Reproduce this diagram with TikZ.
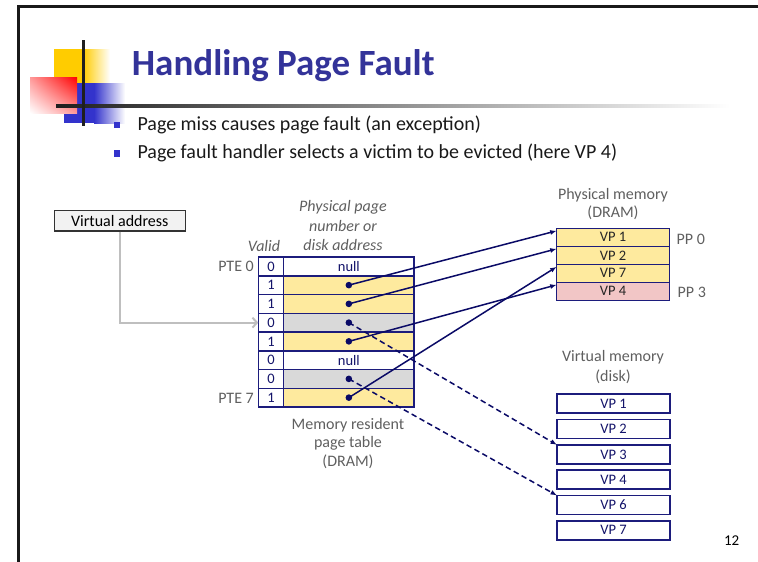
\documentclass[tikz,border=0pt]{standalone}
\usepackage{fontspec}
\setmainfont{Carlito}
\usetikzlibrary{arrows.meta,shadings}
\definecolor{navy}{HTML}{1C1C7C}
\definecolor{navytext}{HTML}{14146A}
\definecolor{arrnavy}{HTML}{0A0A66}
\definecolor{yel}{HTML}{FEEA9E}
\definecolor{grayfill}{HTML}{D9D9D9}
\definecolor{pinkfill}{HTML}{F2C6C6}
\definecolor{titleblue}{HTML}{333399}
\definecolor{bulletblue}{HTML}{3333CC}
\definecolor{lblgray}{HTML}{5F5F5F}
\definecolor{logoyellow}{HTML}{FFCC00}
\definecolor{logoblue}{HTML}{3333CC}
\tikzset{
  tcell/.style={draw=navy, line width=1.5pt, minimum height=18.75pt, inner sep=0pt, outer sep=0pt,
    anchor=north west, font=\fontsize{14.5}{16}\selectfont, text=navytext},
  vcell/.style={tcell, minimum width=25.4pt, fill=white},
  pcell/.style={tcell, minimum width=130.3pt},
  mcell/.style={tcell, minimum width=112.6pt, minimum height=18pt, text=black!85},
  dcell/.style={tcell, minimum width=113.3pt, minimum height=19pt, fill=white, line width=1.7pt},
  dotn/.style={circle, fill=arrnavy, inner sep=0pt, minimum size=6.6pt},
  arr/.style={draw=arrnavy, line width=1.5pt, -{Latex[length=6.5pt,width=5pt]}},
  darr/.style={arr, dash pattern=on 5.5pt off 3.5pt},
  garr/.style={draw=black!25, line width=2pt, -{Straight Barb[length=4.5pt,width=10pt]}},
  glabel/.style={text=lblgray, font=\fontsize{16}{19}\selectfont, align=center, inner sep=0pt},
  bulletsq/.style={fill=bulletblue},
  bullettext/.style={anchor=base west, inner sep=0pt, font=\fontsize{20}{24}\selectfont, text=black!90}
}
\begin{document}
\begin{tikzpicture}[x=1pt,y=-1pt]
\useasboundingbox (0,0) rectangle (758,562);
% slide frame
\draw[line width=3pt, black!90] (18,562) -- (18,6.5) -- (758,6.5);
% logo
\fill[logoyellow] (54,49) rectangle (83,83);
\shade[left color=logoyellow, right color=white] (83,49) rectangle (110,83);
\fill[logoblue] (64,83) rectangle (94,123);
\shade[left color=logoblue, right color=white] (94,83) rectangle (125,123);
\shade[upper right=red, lower left=white, upper left=red!40!white, lower right=red!40!white] (30,77) rectangle (77,113);
\shade[left color=black!88, right color=white] (56,104.3) rectangle (730,107.7);
\fill[black!88] (81.7,40) rectangle (85,126);
% title
\node[anchor=base west, inner sep=0pt, text=titleblue, font=\fontsize{37}{40}\selectfont\bfseries] (title) at (131.7,75) {Handling Page Fault};
% bullets
\fill[bulletsq] (113.5,121.8) rectangle (120.3,128.4);
\node[bullettext] (b1) at (137.3,130) {Page miss causes page fault (an exception)};
\fill[bulletsq] (113.5,150.2) rectangle (120.3,156.8);
\node[bullettext] (b2) at (137.3,158.4) {Page fault handler selects a victim to be evicted (here VP 4)};
% virtual address box
\node[draw=black!80, fill=black!5, line width=1.3pt, minimum width=131pt, minimum height=20.3pt, inner sep=0pt,
  font=\fontsize{16}{19}\selectfont] (vaddr) at (119.8,220.8) {Virtual address};
% page table
\foreach \i/\v/\f/\t in {0/0/white/null, 1/1/yel/, 2/1/yel/, 3/0/grayfill/, 4/1/yel/, 5/0/white/null, 6/0/grayfill/, 7/1/yel/}{
  \node[vcell] (v\i) at (258.3,257+18.75*\i) {\v};
  \node[pcell, fill=\f] (p\i) at (283.7,257+18.75*\i) {\t};
}
\foreach \i in {1,2,3,4,6,7}{
  \node[dotn] (d\i) at (p\i.center) {};
}
% table labels
\node[glabel, font=\fontsize{16}{19.5}\selectfont\itshape] (ppn) at (343,226) {Physical page\\number or\\disk address};
\node[glabel, font=\fontsize{16}{19}\selectfont\itshape] (valid) at (264,245.7) {Valid};
\node[glabel, anchor=east] (pte0) at (254,266.7) {PTE 0};
\node[glabel, anchor=east] (pte7) at (254,398) {PTE 7};
\node[glabel, font=\fontsize{16}{18.5}\selectfont] (mrpt) at (348,443.5) {Memory resident\\page table\\(DRAM)};
% physical memory
\node[glabel, font=\fontsize{16}{18}\selectfont] (pmlbl) at (613,204) {Physical memory\\(DRAM)};
\node[mcell, fill=yel] (m1) at (556.7,228.3) {VP 1};
\node[mcell, fill=yel] (m2) at (556.7,246.3) {VP 2};
\node[mcell, fill=yel] (m7) at (556.7,264.3) {VP 7};
\node[mcell, fill=pinkfill] (m4) at (556.7,282.3) {VP 4};
\node[glabel, anchor=west] (pp0) at (676.5,239) {PP 0};
\node[glabel, anchor=west] (pp3) at (677.5,292.7) {PP 3};
% virtual memory (disk)
\node[glabel, font=\fontsize{16}{19.4}\selectfont] (vmlbl) at (613,367) {Virtual memory\\(disk)};
\node[dcell] (k1) at (557,394.3) {VP 1};
\node[dcell] (k2) at (557,419.6) {VP 2};
\node[dcell] (k3) at (557,444.9) {VP 3};
\node[dcell] (k4) at (557,470.2) {VP 4};
\node[dcell] (k6) at (557,495.5) {VP 6};
\node[dcell] (k7) at (557,520.8) {VP 7};
% page number
\node[inner sep=0pt, font=\fontsize{15}{17}\selectfont] (pgnum) at (731.7,540.7) {12};
% connectors
\draw[garr] (vaddr.south) |- (v3.west);
\draw[arr] (d1.center) -- ([yshift=-2.5pt]m1.north west);
\draw[arr] (d2.center) -- ([yshift=-2.5pt]m2.north west);
\draw[arr] (d7.center) -- ([yshift=-2.5pt]m7.north west);
\draw[arr] (d4.center) -- ([yshift=-2.5pt]m4.north west);
\draw[darr] (d3.center) -- (k3.north west);
\draw[darr] (d6.center) -- (k6.north west);
\end{tikzpicture}
\end{document}
